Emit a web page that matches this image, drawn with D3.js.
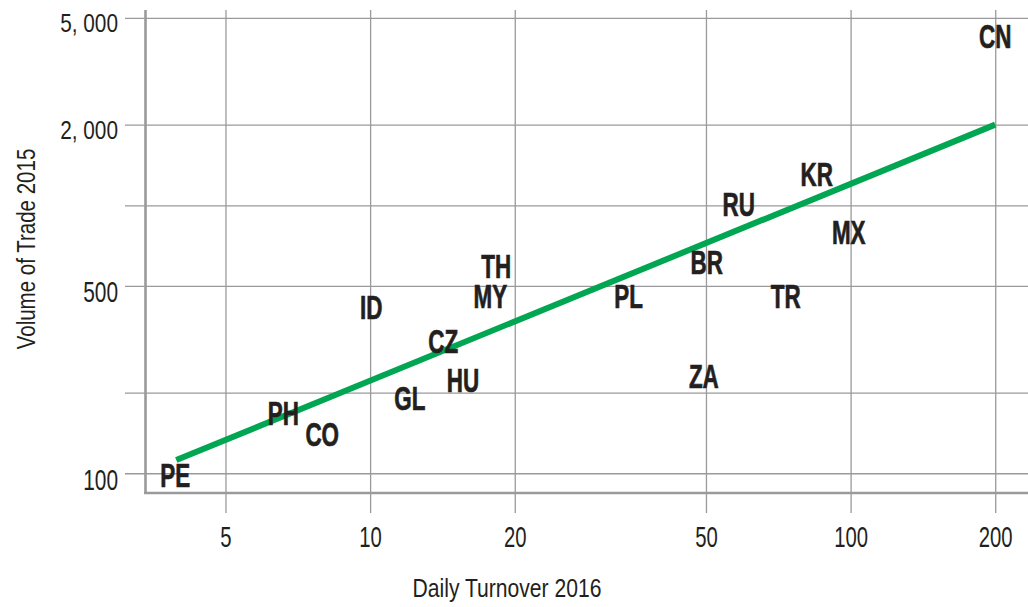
<!DOCTYPE html>
<head>
<meta charset="utf-8">
<style type="text/css">
body { margin: 0; background: #fff; }
text { font-family: 'Liberation Sans', Arial, sans-serif; fill: #231f20; }
.grid line { stroke: #9a9a9c; stroke-width: 1.3; }
.lbl { font-weight: bold; font-size: 33px; stroke: #231f20; stroke-width: 0.7; }
</style>
</head>
<body>
<script src="https://cdn.jsdelivr.net/npm/d3@7"></script>
<script type="text/javascript">
  // countries, turnover (x) and trade volume (y)
  var codes    = ['PE', 'PH', 'CO', 'GL', 'HU', 'CZ', 'ID', 'TH', 'MY', 'PL', 'ZA', 'BR', 'RU', 'TR', 'KR', 'MX', 'CN'];
  var turnover = [3.93, 6.6, 7.95, 12.1, 15.6, 14.2, 10.05, 18.3, 17.8, 34.5, 49.5, 50.2, 58.5, 73.3, 85, 99.1, 200];
  var volume   = [98.6, 168, 140, 191, 223, 312, 417, 594, 459, 459, 231, 614, 1011, 459, 1309, 795, 4280];

  // fitted line end points
  var trendX = [3.95, 200];
  var trendY = [112, 2000];

  var xTicks = [5, 10, 20, 50, 100, 200];
  var yTicks = [100, 200, 500, 1000, 2000, 5000];
  var yLabels = {100: '100', 500: '500', 2000: '2, 000', 5000: '5, 000'};

  var W = 1028, H = 607;
  var svg = d3.select('body').append('svg')
          .attr('width', W)
          .attr('height', H);

  var x = d3.scaleLog().domain([3.4, 234]).range([145, 1028]);
  var y = d3.scaleLog().domain([84.4, 5354]).range([493, 10]);

  // horizontal grid + y labels
  var gy = svg.append('g')
          .attr('class', 'grid')
          .attr('transform', 'translate(125,0)')
          .call(d3.axisLeft(y).tickValues(yTicks).tickSize(-(W - 125)).tickFormat(function(d){ return yLabels[d] || ''; }));
  gy.selectAll('text')
          .attr('x', 0).attr('dy', 0)
          .attr('transform', function(d){
              return d >= 2000 ? 'translate(-7,14) scale(0.8,1)' : 'translate(-7,16) scale(0.72,1)';
          })
          .style('font-size', function(d){ return d >= 2000 ? '26px' : '29px'; })
          .style('font-family', null);

  // vertical grid + x labels
  var gx = svg.append('g')
          .attr('class', 'grid')
          .attr('transform', 'translate(0,513)')
          .call(d3.axisBottom(x).tickValues(xTicks).tickSize(-503).tickFormat(d3.format('d')));
  gx.selectAll('text')
          .attr('y', 0).attr('dy', 0)
          .attr('transform', 'translate(0,34) scale(0.7,1)')
          .style('font-size', '29px')
          .style('font-family', null);
  svg.selectAll('.grid .domain').remove();

  // axis lines
  svg.append('line')
          .attr('x1', 145.5).attr('x2', 145.5)
          .attr('y1', 10).attr('y2', 494)
          .attr('stroke', '#9a9a9c').attr('stroke-width', 2.6);
  svg.append('line')
          .attr('x1', 144).attr('x2', W)
          .attr('y1', 493).attr('y2', 493)
          .attr('stroke', '#9a9a9c').attr('stroke-width', 2.6);

  // trend line
  svg.append('line')
          .attr('x1', x(trendX[0])).attr('y1', y(trendY[0]))
          .attr('x2', x(trendX[1])).attr('y2', y(trendY[1]))
          .attr('stroke', '#00a651')
          .attr('stroke-width', 6);

  // country labels
  svg.selectAll('.lbl')
          .data(codes)
          .enter()
          .append('text')
          .attr('class', 'lbl')
          .attr('text-anchor', 'middle')
          .attr('transform', function(d, i){
              return 'translate(' + x(turnover[i]) + ',' + (y(volume[i]) + 12) + ') scale(0.68,1)';
          })
          .text(function(d){ return d; });

  // axis titles
  svg.append('text')
          .attr('transform', 'translate(507,597) scale(0.845,1)')
          .attr('text-anchor', 'middle')
          .style('font-size', '25px')
          .text('Daily Turnover 2016');
  svg.append('text')
          .attr('transform', 'translate(35,249) rotate(-90) scale(0.82,1)')
          .attr('text-anchor', 'middle')
          .style('font-size', '25px')
          .text('Volume of Trade 2015');
</script>
</body>
